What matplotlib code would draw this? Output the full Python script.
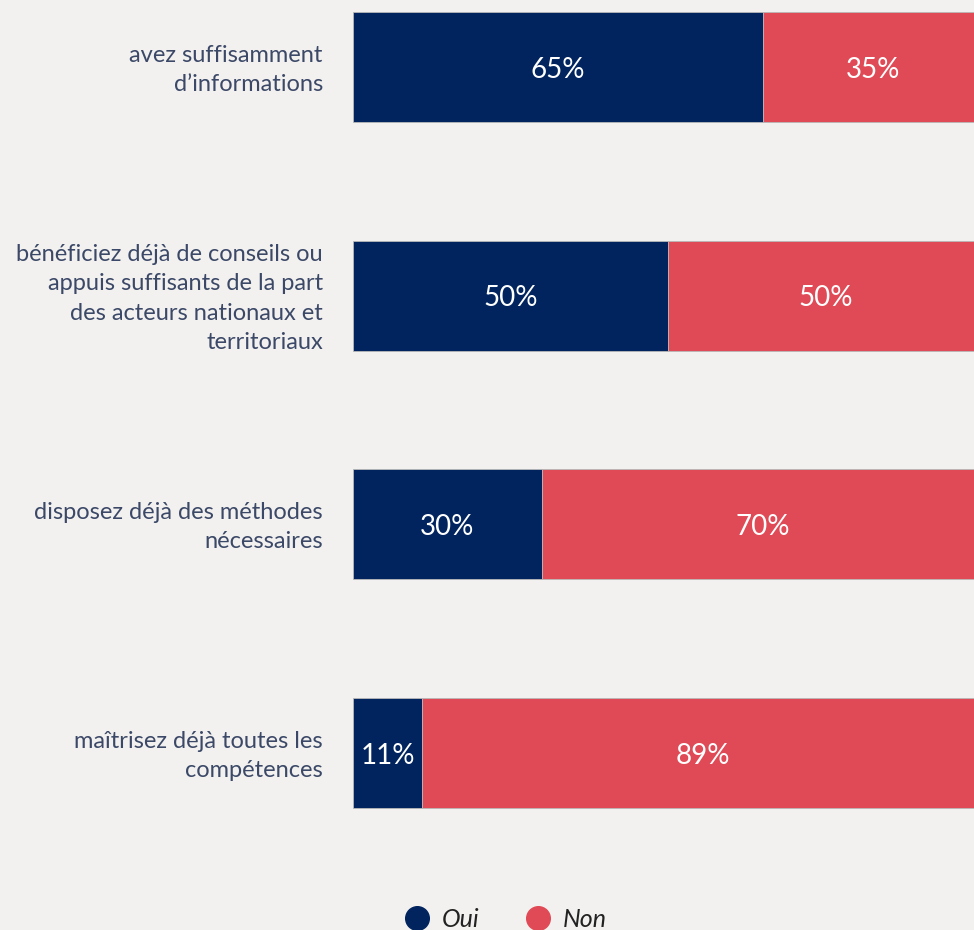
import matplotlib
matplotlib.use("Agg")
import matplotlib.pyplot as plt
from matplotlib.lines import Line2D

plt.rcParams['font.family'] = ['Lato', 'DejaVu Sans']

categories = [
    "avez suffisamment\nd’informations",
    "bénéficiez déjà de conseils ou\nappuis suffisants de la part\ndes acteurs nationaux et\nterritoriaux",
    "disposez déjà des méthodes\nnécessaires",
    "maîtrisez déjà toutes les\ncompétences",
]
oui = [65, 50, 30, 11]
non = [35, 50, 70, 89]
series_names = ["Oui", "Non"]

navy = "#01245f"
red = "#e04a56"
bg = "#f2f1ef"
label_color = "#3b4867"

fig = plt.figure(figsize=(9.74, 9.30), dpi=100, facecolor=bg)
ax = fig.add_axes([353/974, 1-840/930, 630/974, 840/930])
ax.set_facecolor(bg)

y = list(range(len(categories)))
h = 0.481
ax.barh(y, oui, height=h, color=navy, edgecolor="#b8b8b8", linewidth=0.6)
ax.barh(y, non, left=oui, height=h, color=red, edgecolor="#b8b8b8", linewidth=0.6)

for i in y:
    ax.text(oui[i]/2, i + 0.012, f"{oui[i]}%", color="white", ha="center", va="center", fontsize=20)
    ax.text(oui[i] + non[i]/2, i + 0.012, f"{non[i]}%", color="white", ha="center", va="center", fontsize=20)
    ax.text(-4.8, i + 0.012, categories[i], color=label_color, ha="right", va="center",
            fontsize=17, linespacing=1.5)

ax.set_xlim(0, 100)
ax.set_ylim(3.38, -0.293)
ax.axis("off")

handles = [Line2D([], [], marker="o", linestyle="", markersize=17, color=navy),
           Line2D([], [], marker="o", linestyle="", markersize=17, color=red)]
leg = fig.legend(handles, series_names, loc="center", bbox_to_anchor=(505/974, 1-919/930),
                 ncol=2, frameon=False, prop={"style": "italic", "size": 18},
                 handletextpad=0.45, columnspacing=1.8, handlelength=1.1)
for t in leg.get_texts():
    t.set_color("#222222")

fig.savefig("out.png", dpi=100, facecolor=bg)
